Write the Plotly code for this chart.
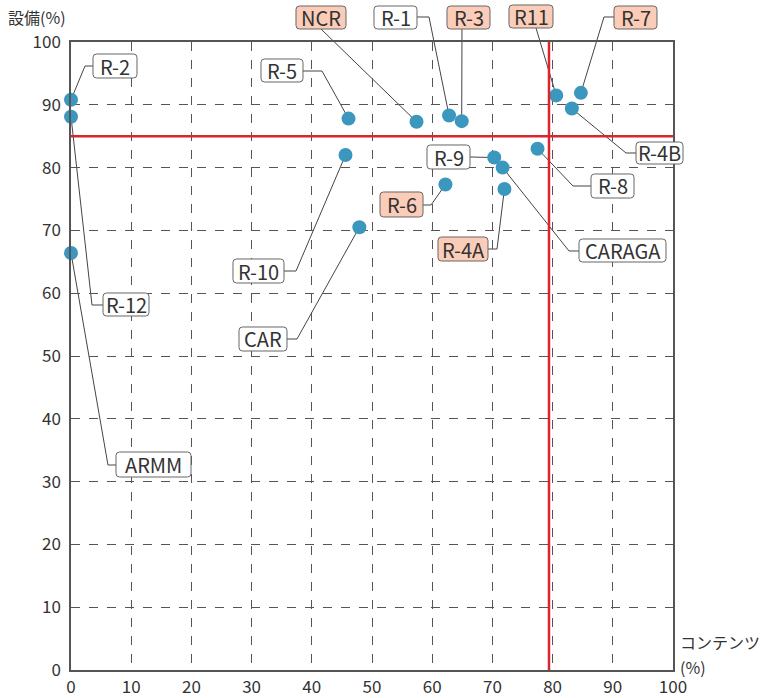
import plotly.graph_objects as go

# ---- data ----
regions = ["R-2", "R-12", "ARMM", "R-5", "NCR", "R-1", "R-3", "R11", "R-7",
           "R-4B", "R-8", "CARAGA", "R-9", "R-6", "R-4A", "R-10", "CAR"]
contents = [0, 0, 0, 46.1, 57.4, 62.8, 64.9, 80.6, 84.7,
            83.2, 77.5, 71.7, 70.3, 62.2, 72.0, 45.6, 47.9]
equipment = [90.8, 88.1, 66.4, 87.8, 87.3, 88.3, 87.4, 91.5, 91.9,
             89.4, 83.0, 80.0, 81.6, 77.3, 76.6, 82.0, 70.5]
highlighted = ["NCR", "R-3", "R11", "R-7", "R-6", "R-4A"]
ref_equipment = 85
ref_contents = 79.4
tick_values = [0, 10, 20, 30, 40, 50, 60, 70, 80, 90, 100]

# ---- label layout (pixel positions in the 765x698 page) ----
L, R, T, B = 71, 673, 42, 670
label_layout = {
    "R-2": ((93, 137, 54, 78), [(93, 66), (85, 66)]),
    "R-12": ((103, 149, 293, 316), [(103, 305), (92, 305)]),
    "ARMM": ((116, 191, 452, 477), [(116, 465), (108, 465)]),
    "R-5": ((261, 303, 59, 82), [(303, 71), (322, 71)]),
    "NCR": ((296, 346, 6, 29), [(321, 29)]),
    "R-1": ((374, 417, 6, 29), [(417, 17), (429, 17)]),
    "R-3": ((447, 490, 6, 29), [(462, 29)]),
    "R11": ((509, 553, 5, 28), [(536, 28)]),
    "R-7": ((614, 657, 6, 29), [(614, 17), (604, 17)]),
    "R-4B": ((636, 683, 142, 164), [(636, 153), (626, 153)]),
    "R-8": ((591, 634, 174, 198), [(591, 186), (573, 186)]),
    "CARAGA": ((579, 666, 239, 262), [(579, 251), (569, 251)]),
    "R-9": ((427, 470, 145, 169), [(470, 157)]),
    "R-6": ((380, 423, 192, 217), [(423, 205), (431, 205)]),
    "R-4A": ((438, 488, 237, 261), [(488, 249), (497, 249)]),
    "R-10": ((233, 284, 259, 283), [(284, 271), (296, 271)]),
    "CAR": ((239, 287, 327, 351), [(287, 339), (297, 339)]),
}


def px2paper(px, py):
    return (px - L) / (R - L), (B - py) / (B - T)


def data2paper(x, y):
    return x / 100.0, y / 100.0


FONT = "Noto Sans CJK JP, Noto Sans, sans-serif"
TXT = "#333333"

fig = go.Figure()
fig.add_trace(go.Scatter(
    x=contents, y=equipment, mode="markers", text=regions,
    marker=dict(size=14, color="#3b97bd", line=dict(width=0)),
    cliponaxis=False, hoverinfo="text", showlegend=False))

shapes = []
annotations = []

# reference lines
shapes.append(dict(type="line", xref="x", yref="y", x0=0, x1=100,
                   y0=ref_equipment, y1=ref_equipment,
                   line=dict(color="#d8262e", width=2.5), layer="above"))
shapes.append(dict(type="line", xref="x", yref="y", x0=ref_contents, x1=ref_contents,
                   y0=0, y1=100, line=dict(color="#d8262e", width=2.5), layer="above"))

for name, cx, cy in zip(regions, contents, equipment):
    (bx0, bx1, by0, by1), via = label_layout[name]
    # leader line
    pts = [px2paper(*p) for p in via] + [data2paper(cx, cy)]
    path = "M " + " L ".join(f"{u:.5f},{v:.5f}" for u, v in pts)
    shapes.append(dict(type="path", xref="paper", yref="paper", path=path,
                       line=dict(color="#444444", width=1), layer="below"))
    # rounded box
    r = 3.5
    rx, ry = r / (R - L), r / (B - T)
    x0, y1 = px2paper(bx0, by0)
    x1, y0 = px2paper(bx1, by1)
    box = (f"M {x0+rx:.5f},{y0:.5f} L {x1-rx:.5f},{y0:.5f} Q {x1:.5f},{y0:.5f} {x1:.5f},{y0+ry:.5f} "
           f"L {x1:.5f},{y1-ry:.5f} Q {x1:.5f},{y1:.5f} {x1-rx:.5f},{y1:.5f} "
           f"L {x0+rx:.5f},{y1:.5f} Q {x0:.5f},{y1:.5f} {x0:.5f},{y1-ry:.5f} "
           f"L {x0:.5f},{y0+ry:.5f} Q {x0:.5f},{y0:.5f} {x0+rx:.5f},{y0:.5f} Z")
    fill = "#fbcdb9" if name in highlighted else "#ffffff"
    shapes.append(dict(type="path", xref="paper", yref="paper", path=box,
                       fillcolor=fill, line=dict(color="#666666", width=1), layer="above"))
    annotations.append(dict(xref="paper", yref="paper", x=(x0 + x1) / 2, y=(y0 + y1) / 2,
                            text=name, showarrow=False, xanchor="center", yanchor="middle",
                            font=dict(family=FONT, size=20, color=TXT)))

# axis titles
annotations.append(dict(xref="paper", yref="paper", x=(6 - L) / (R - L), y=(B - 17) / (B - T),
                        text="設備(%)", showarrow=False, xanchor="left", yanchor="middle",
                        font=dict(family=FONT, size=16, color=TXT)))
annotations.append(dict(xref="paper", yref="paper", x=(678 - L) / (R - L), y=(B - 642) / (B - T),
                        text="コンテンツ", showarrow=False, xanchor="left", yanchor="middle",
                        font=dict(family=FONT, size=16, color=TXT)))
annotations.append(dict(xref="paper", yref="paper", x=(678 - L) / (R - L), y=(B - 667) / (B - T),
                        text="(%)", showarrow=False, xanchor="left", yanchor="middle",
                        font=dict(family=FONT, size=16, color=TXT)))

axis_common = dict(range=[0, 100], tickvals=tick_values, showgrid=True,
                   gridcolor="#555555", griddash="dash", gridwidth=1,
                   showline=True, linecolor="#555555", linewidth=1.5, mirror=True,
                   zeroline=False, ticks="", automargin=False,
                   tickfont=dict(family=FONT, size=17, color=TXT), fixedrange=True)

fig.update_layout(
    width=765, height=698,
    margin=dict(l=L, r=765 - R, t=T, b=698 - B, autoexpand=False),
    paper_bgcolor="white", plot_bgcolor="rgba(0,0,0,0)",
    xaxis=dict(**axis_common, ticklabelstandoff=1),
    yaxis=dict(**axis_common, ticklabelstandoff=5),
    shapes=shapes, annotations=annotations,
    showlegend=False,
)

fig.write_html("out.html", config={"displayModeBar": False},
               post_script="document.body.style.margin='0';document.body.style.overflow='hidden';")
